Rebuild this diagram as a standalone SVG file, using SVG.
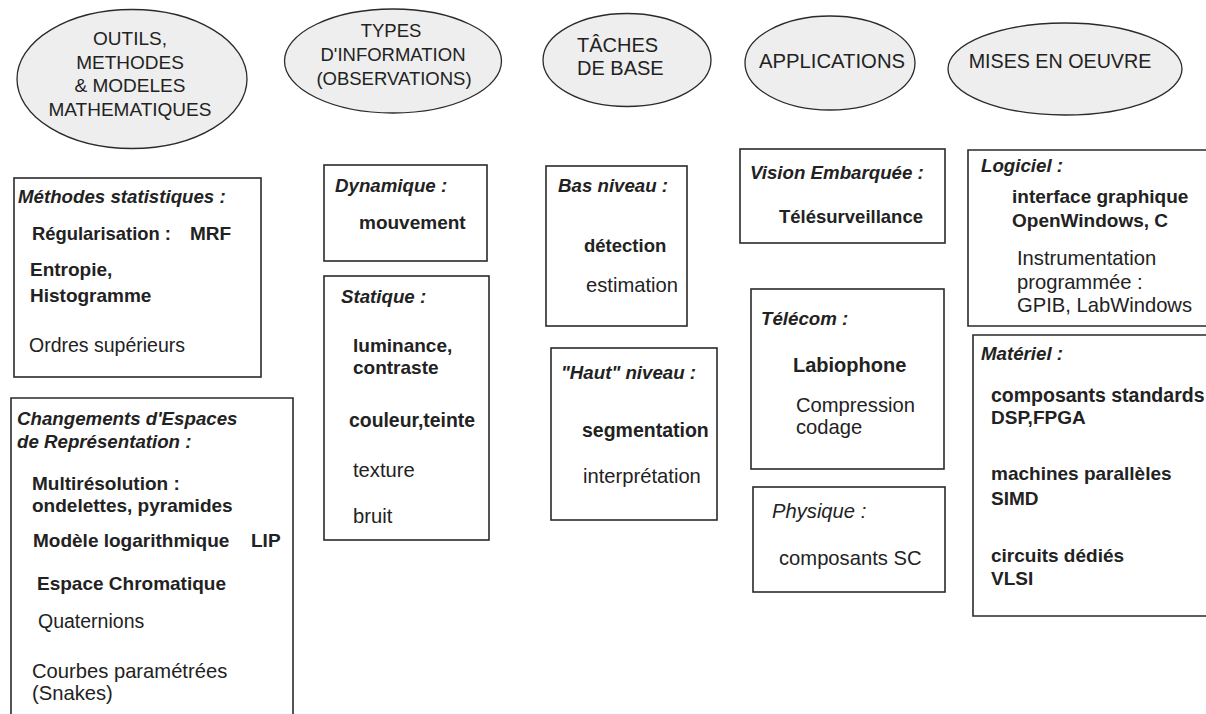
<svg xmlns="http://www.w3.org/2000/svg" width="1206" height="714" viewBox="0 0 1206 714">
<style>
text{font-family:"Liberation Sans",Arial,Helvetica,sans-serif;fill:#222;font-size:20.2px}
.el{fill:#eeeeee;stroke:#2a2a2a;stroke-width:1.3}
.bx{fill:#ffffff;stroke:#2a2a2a;stroke-width:1.6}
.h{font-weight:bold;font-style:italic;font-size:18.7px}
.b{font-weight:bold;font-size:19px}
.i{font-style:italic}
.et{text-anchor:middle}
</style>
<rect width="1206" height="714" fill="#ffffff"/>
<g id="connectors"></g>
<g id="ell-outils">
<ellipse class="el" cx="132" cy="79" rx="115" ry="69.5"/>
<text class="et" x="130" y="45" style="font-size:19px">OUTILS,</text>
<text class="et" x="130" y="69" style="font-size:19px">METHODES</text>
<text class="et" x="130" y="92" style="font-size:19px">&amp; MODELES</text>
<text class="et" x="130" y="116" style="font-size:19px">MATHEMATIQUES</text>
</g>
<g id="ell-types">
<ellipse class="el" cx="393" cy="61" rx="108.5" ry="52"/>
<text class="et" x="391" y="37" style="font-size:18.5px">TYPES</text>
<text class="et" x="393" y="61" style="font-size:18.5px">D'INFORMATION</text>
<text class="et" x="394" y="85" style="font-size:18.5px">(OBSERVATIONS)</text>
</g>
<g id="ell-taches">
<ellipse class="el" cx="627" cy="60" rx="84" ry="46.5"/>
<text x="577" y="52" style="font-size:20px">TÂCHES</text>
<text x="577" y="75" style="font-size:20px">DE BASE</text>
</g>
<g id="ell-applications">
<ellipse class="el" cx="830" cy="63" rx="85" ry="47"/>
<text class="et" x="832" y="68" style="font-size:20.3px">APPLICATIONS</text>
</g>
<g id="ell-mises">
<ellipse class="el" cx="1065" cy="69" rx="117" ry="46"/>
<text class="et" x="1060" y="68" style="font-size:19.7px">MISES EN OEUVRE</text>
</g>
<g id="box-stat">
<rect class="bx" x="14" y="178" width="247" height="199"/>
<text class="h" x="18" y="203">Méthodes statistiques :</text>
<text class="b" x="32" y="240" style="font-size:18.4px">Régularisation :</text>
<text class="b" x="190" y="240">MRF</text>
<text class="b" x="30" y="276">Entropie,</text>
<text class="b" x="30" y="302">Histogramme</text>
<text x="29" y="352" style="font-size:19.5px">Ordres supérieurs</text>
</g>
<g id="box-chang">
<path class="bx" d="M11,720 V398 H293 V720"/>
<text class="h" x="17" y="425">Changements d'Espaces</text>
<text class="h" x="17" y="448">de Représentation :</text>
<text class="b" x="32" y="490">Multirésolution :</text>
<text class="b" x="32" y="512">ondelettes, pyramides</text>
<text class="b" x="33" y="547">Modèle logarithmique</text>
<text class="b" x="251" y="547">LIP</text>
<text class="b" x="37" y="590">Espace Chromatique</text>
<text x="38" y="628" style="font-size:19.5px">Quaternions</text>
<text x="32" y="678">Courbes paramétrées</text>
<text x="32" y="700">(Snakes)</text>
</g>
<g id="box-dyn">
<rect class="bx" x="324" y="165" width="163" height="96"/>
<text class="h" x="335" y="192">Dynamique :</text>
<text class="b" x="359" y="229">mouvement</text>
</g>
<g id="box-stat2">
<rect class="bx" x="324" y="276" width="165" height="264"/>
<text class="h" x="341" y="303">Statique :</text>
<text class="b" x="353" y="352">luminance,</text>
<text class="b" x="353" y="374">contraste</text>
<text class="b" x="349" y="427" style="font-size:19.4px">couleur,teinte</text>
<text x="353" y="477">texture</text>
<text x="353" y="523">bruit</text>
</g>
<g id="box-bas">
<rect class="bx" x="546" y="166" width="141" height="160"/>
<text class="h" x="558" y="192">Bas niveau :</text>
<text class="b" x="584" y="252" style="font-size:18.5px">détection</text>
<text x="586" y="292">estimation</text>
</g>
<g id="box-haut">
<rect class="bx" x="551" y="348" width="166" height="172"/>
<text class="h" x="561" y="379">"Haut" niveau :</text>
<text class="b" x="582" y="437" style="font-size:19.5px">segmentation</text>
<text x="583" y="483">interprétation</text>
</g>
<g id="box-vision">
<rect class="bx" x="740" y="149" width="205" height="94"/>
<text class="h" x="750" y="179">Vision Embarquée :</text>
<text class="b" x="779" y="223" style="font-size:18.5px">Télésurveillance</text>
</g>
<g id="box-telecom">
<rect class="bx" x="751" y="289" width="193" height="180"/>
<text class="h" x="761" y="325">Télécom :</text>
<text class="b" x="793" y="372" style="font-size:20px">Labiophone</text>
<text x="796" y="412">Compression</text>
<text x="796" y="434">codage</text>
</g>
<g id="box-physique">
<rect class="bx" x="753" y="487" width="192" height="105"/>
<text class="i" x="772" y="518">Physique :</text>
<text x="779" y="565">composants SC</text>
</g>
<g id="box-logiciel">
<path class="bx" d="M1210,150 H968 V326 H1210"/>
<text class="h" x="981" y="172">Logiciel :</text>
<text class="b" x="1012" y="203">interface graphique</text>
<text class="b" x="1012" y="227">OpenWindows, C</text>
<text x="1017" y="265">Instrumentation</text>
<text x="1017" y="289">programmée :</text>
<text x="1017" y="312">GPIB, LabWindows</text>
</g>
<g id="box-materiel">
<path class="bx" d="M1210,335 H973 V616 H1210"/>
<text class="h" x="981" y="360">Matériel :</text>
<text class="b" x="991" y="402" style="font-size:19.5px">composants standards</text>
<text class="b" x="991" y="424">DSP,FPGA</text>
<text class="b" x="991" y="480">machines parallèles</text>
<text class="b" x="991" y="505">SIMD</text>
<text class="b" x="991" y="562">circuits dédiés</text>
<text class="b" x="991" y="585">VLSI</text>
</g>
</svg>
